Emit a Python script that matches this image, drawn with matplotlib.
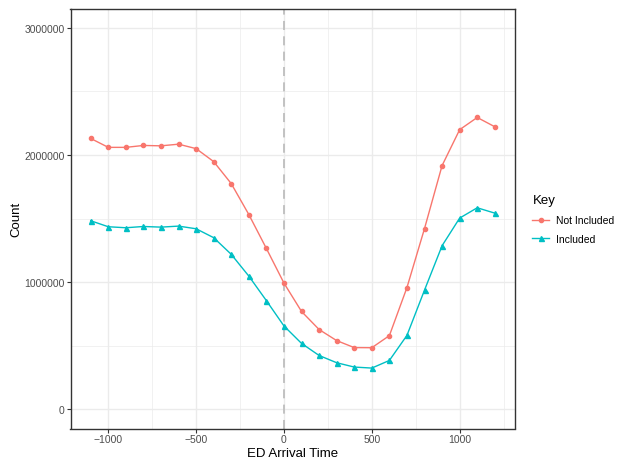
import matplotlib
matplotlib.use("Agg")
import matplotlib.pyplot as plt
from matplotlib.ticker import FixedLocator

plt.rcParams['font.family'] = ['Liberation Sans', 'DejaVu Sans']

time = [-1100, -1000, -900, -800, -700, -600, -500, -400, -300, -200, -100, 0,
        100, 200, 300, 400, 500, 600, 700, 800, 900, 1000, 1100, 1200]
not_included = [2130000, 2060000, 2060000, 2075000, 2072000, 2085000, 2050000, 1948000,
                1775000, 1532000, 1265000, 993000, 770000, 628000, 541000, 486000,
                485000, 580000, 958000, 1422000, 1917000, 2199000, 2295000, 2222000]
included = [1483000, 1436000, 1428000, 1438000, 1433000, 1441000, 1420000, 1350000,
            1219000, 1048000, 855000, 656000, 519000, 424000, 367000, 333000,
            325000, 385000, 582000, 938000, 1287000, 1504000, 1585000, 1543000]
series_names = ["Not Included", "Included"]
legend_title = "Key"
x_label = "ED Arrival Time"
y_label = "Count"

red = "#F8766D"
cyan = "#00BFC4"

fig = plt.figure(figsize=(6.21, 4.64), dpi=100)
ax = fig.add_axes([70.5/621, 1 - 429.5/464, (515 - 70.5)/621, (429.5 - 9.7)/464])

ax.axvline(0, color="#BEBEBE", linestyle=(0, (5, 3.5)), linewidth=1.3, zorder=1)
ax.plot(time, not_included, color=red, marker="o", markersize=3.0, linewidth=1.0,
        label=series_names[0], zorder=3)
ax.plot(time, included, color=cyan, marker="^", markersize=3.6, linewidth=1.0,
        label=series_names[1], zorder=3)

ax.set_xlim(-1215, 1315)
ax.set_ylim(-150000, 3150000)
ax.xaxis.set_major_locator(FixedLocator([-1000, -500, 0, 500, 1000]))
ax.xaxis.set_minor_locator(FixedLocator([-750, -250, 250, 750, 1250]))
ax.yaxis.set_major_locator(FixedLocator([0, 1000000, 2000000, 3000000]))
ax.yaxis.set_minor_locator(FixedLocator([500000, 1500000, 2500000]))
ax.set_yticklabels(["0", "1000000", "2000000", "3000000"])
ax.set_xticklabels(["\u22121000", "\u2212500", "0", "500", "1000"])

ax.grid(which="major", color="#EBEBEB", linewidth=1.0, zorder=0)
ax.grid(which="minor", color="#EBEBEB", linewidth=0.5, zorder=0)
ax.set_axisbelow(True)
for s in ax.spines.values():
    s.set_color("#333333")
    s.set_linewidth(1.0)
ax.tick_params(which="major", length=3, width=0.8, color="#333333", labelsize=7.5,
               labelcolor="#4D4D4D", pad=1.2)
ax.tick_params(which="minor", length=0)

ax.set_xlabel(x_label, fontsize=9.5, labelpad=2)
ax.set_ylabel(y_label, fontsize=9.5, labelpad=1.5)

leg = fig.legend(loc="upper left", bbox_to_anchor=(523/621, 1 - 186/464), frameon=False,
                 title=legend_title, fontsize=7.5, title_fontsize=9.5,
                 handlelength=1.6, handletextpad=0.7, labelspacing=0.85,
                 alignment="left")

fig.savefig("out.png", dpi=100)
